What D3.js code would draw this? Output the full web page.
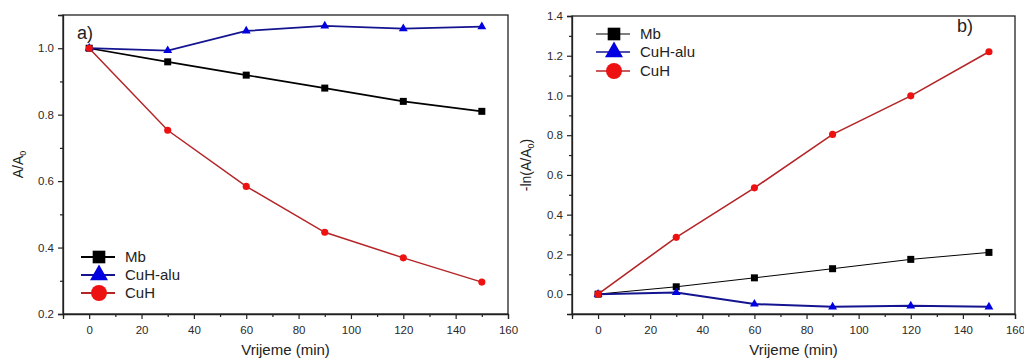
<!DOCTYPE html>
<html><head><meta charset="utf-8">
<script src="https://cdn.jsdelivr.net/npm/d3@7"></script>
<style>body{margin:0;background:#fff}svg{display:block}text{font-family:"Liberation Sans",Arial,sans-serif}</style>
</head><body><svg id="c" width="1024" height="360"></svg>
<script>
const times = [0, 30, 60, 90, 120, 150];
const seriesNames = ["Mb", "CuH-alu", "CuH"];
const aMb = [1.0, 0.959, 0.919, 0.88, 0.84, 0.81];
const aCuHalu = [1.0, 0.993, 1.052, 1.067, 1.059, 1.065];
const aCuH = [1.0, 0.753, 0.584, 0.446, 0.369, 0.296];
const bMb = [0.0, 0.037, 0.082, 0.128, 0.175, 0.21];
const bCuHalu = [0.0, 0.008, -0.05, -0.064, -0.059, -0.064];
const bCuH = [0.0, 0.286, 0.535, 0.804, 0.998, 1.22];
const xTicks = [0, 20, 40, 60, 80, 100, 120, 140, 160];
const aYTicks = [0.2, 0.4, 0.6, 0.8, 1.0];
const bYTicks = [0.0, 0.2, 0.4, 0.6, 0.8, 1.0, 1.2, 1.4];

const svg = d3.select("#c");
const styles = [
  {sym: d3.symbolSquare, fill: "#000", line: "#000", size: 49, lsize: 160},
  {sym: d3.symbolTriangle, fill: "#0000e0", line: "#141490", size: 34, lsize: 140},
  {sym: d3.symbolCircle, fill: "#ee1111", line: "#b52528", size: 40, lsize: 200}
];

function panel(o) {
  const g = svg.append("g");
  const x = d3.scaleLinear().domain([-10, 160]).range([o.left, o.right]);
  const y = d3.scaleLinear().domain(o.ydom).range([o.bottom, o.top]);
  const xMinor = d3.range(-10, 161, 10).filter(v => v % 20 !== 0);
  const yMinor = o.yMinor;
  g.append("g").attr("transform", `translate(0,${o.bottom})`)
    .call(d3.axisBottom(x).tickValues(xTicks).tickSize(5).tickPadding(7).tickFormat(d3.format("d")));
  g.append("g").attr("transform", `translate(0,${o.bottom})`)
    .call(d3.axisBottom(x).tickValues(xMinor).tickSize(3).tickFormat(""))
    .call(s => s.select(".domain").remove());
  g.append("g").attr("transform", `translate(${o.left},0)`)
    .call(d3.axisLeft(y).tickValues(o.yTicks).tickSize(5).tickPadding(4).tickFormat(d3.format(".1f")));
  g.append("g").attr("transform", `translate(${o.left},0)`)
    .call(d3.axisLeft(y).tickValues(yMinor).tickSize(3).tickFormat(""))
    .call(s => s.select(".domain").remove());
  g.selectAll(".tick text").attr("font-size", 11.5).attr("fill", "#2a2a2a").attr("font-family", "Liberation Sans, Arial, sans-serif");
  g.selectAll(".tick line").attr("stroke", "#222").attr("stroke-width", 1.2);
  g.selectAll(".domain").attr("stroke", "#222").attr("stroke-width", 1.3);
  g.append("rect").attr("x", o.left).attr("y", o.top).attr("width", o.right - o.left).attr("height", o.bottom - o.top)
    .attr("fill", "none").attr("stroke", "#222").attr("stroke-width", 1.3);
  o.data.forEach((vals, i) => {
    const st = styles[i];
    const pts = times.map((t, j) => [t, vals[j]]);
    g.append("path").datum(pts).attr("fill", "none").attr("stroke", st.line)
      .attr("stroke-width", o.lw[i])
      .attr("d", d3.line().x(d => x(d[0])).y(d => y(d[1])));
    g.selectAll(null).data(pts).enter().append("path")
      .attr("transform", d => `translate(${x(d[0])},${y(d[1])})`)
      .attr("d", d3.symbol().type(st.sym).size(st.size)).attr("fill", st.fill);
  });
  seriesNames.forEach((n, i) => {
    const st = styles[i];
    const ly = o.legY[i];
    g.append("line").attr("x1", o.legX).attr("x2", o.legX + 34).attr("y1", ly).attr("y2", ly)
      .attr("stroke", st.line).attr("stroke-width", o.legLw[i]);
    g.append("path").attr("transform", `translate(${o.legX + 18},${ly})`)
      .attr("d", d3.symbol().type(st.sym).size(st.lsize)).attr("fill", st.fill);
    g.append("text").attr("x", o.legX + 44).attr("y", ly + 5).attr("font-size", 15).attr("fill", "#222").text(n);
  });
  g.append("text").attr("x", (o.left + o.right) / 2).attr("y", 355).attr("text-anchor", "middle")
    .attr("font-size", 15).attr("fill", "#222").text("Vrijeme (min)");
  const yt = g.append("text").attr("transform", `translate(${o.ytX},${(o.top + o.bottom) / 2}) rotate(-90)`)
    .attr("text-anchor", "middle").attr("font-size", 14).attr("fill", "#222");
  yt.append("tspan").text(o.ytPre);
  yt.append("tspan").attr("font-size", 9).attr("dy", 3).text("0");
  if (o.ytPost) yt.append("tspan").attr("dy", -3).text(o.ytPost);
  g.append("text").attr("x", o.labX).attr("y", o.labY).attr("font-size", 18).attr("fill", "#222").text(o.lab);
}

panel({
  left: 63, right: 508, top: 15, bottom: 314, ydom: [0.2, 1.1],
  yTicks: aYTicks, yMinor: [0.3, 0.5, 0.7, 0.9, 1.1],
  data: [aMb, aCuHalu, aCuH], lw: [1.6, 1.8, 1.5],
  legX: 81, legY: [257, 275, 293], legLw: [2, 2, 2],
  ytX: 23, ytPre: "A/A", ytPost: "", lab: "a)", labX: 77, labY: 39
});
panel({
  left: 572, right: 1015, top: 16, bottom: 314, ydom: [-0.1, 1.4],
  yTicks: bYTicks, yMinor: [-0.1, 0.1, 0.3, 0.5, 0.7, 0.9, 1.1, 1.3],
  data: [bMb, bCuHalu, bCuH], lw: [1, 2, 1.6],
  legX: 596, legY: [34, 52, 71], legLw: [1, 1.6, 1.6],
  ytX: 531, ytPre: "-ln(A/A", ytPost: ")", lab: "b)", labX: 957, labY: 32
});
</script></body></html>
